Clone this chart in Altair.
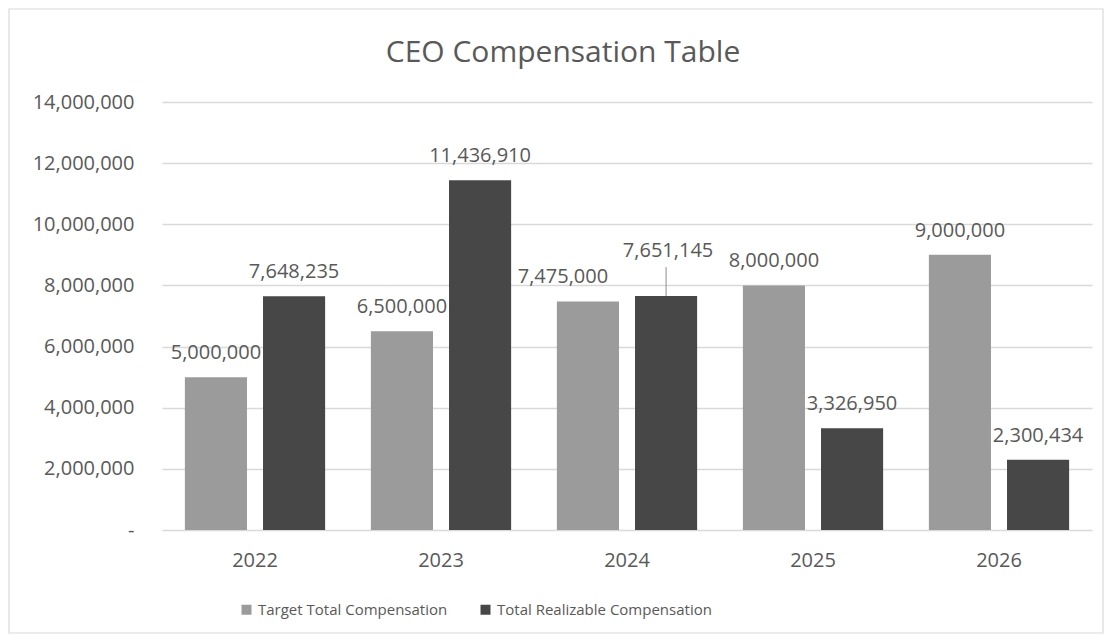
import altair as alt
import pandas as pd

# ---- data ----
years = ["2022", "2023", "2024", "2025", "2026"]
target_total = [5000000, 6500000, 7475000, 8000000, 9000000]
total_realizable = [7648235, 11436910, 7651145, 3326950, 2300434]
series_names = ["Target Total Compensation", "Total Realizable Compensation"]
y_tick_values = [0, 2000000, 4000000, 6000000, 8000000, 10000000, 12000000, 14000000]
chart_title = "CEO Compensation Table"

rows = []
for i, yr in enumerate(years):
    rows.append({"year": yr, "series": series_names[0], "value": target_total[i]})
    rows.append({"year": yr, "series": series_names[1], "value": total_realizable[i]})
df = pd.DataFrame(rows)

FONT = "Open Sans"
TXT = "#595959"
GRID = "#d9d9d9"
COLORS = ["#9B9B9B", "#474747"]

x_enc = alt.X(
    "year:N",
    sort=years,
    scale=alt.Scale(paddingInner=0.246, paddingOuter=0.123),
    axis=alt.Axis(
        title=None, labelAngle=0, domain=False, ticks=False, labelPadding=20,
        labelFontSize=20, labelColor=TXT, labelFont=FONT, grid=False,
    ),
)
xo_enc = alt.XOffset(
    "series:N", sort=series_names,
    scale=alt.Scale(paddingInner=0.205, paddingOuter=0),
)
y_enc = alt.Y(
    "value:Q",
    scale=alt.Scale(domain=[0, 14000000], nice=False),
    axis=alt.Axis(
        title=None, values=y_tick_values,
        labelExpr="datum.value == 0 ? '-\u00a0\u00a0' : format(datum.value, ',')",
        domain=False, ticks=False, grid=True, gridColor=GRID, gridWidth=1.4,
        labelPadding=28, labelFontSize=20, labelColor=TXT, labelFont=FONT,
    ),
)
color_enc = alt.Color(
    "series:N",
    sort=series_names,
    scale=alt.Scale(domain=series_names, range=COLORS),
    legend=alt.Legend(
        title=None, orient="none", direction="horizontal",
        legendX=77, legendY=500, padding=0,
        symbolType="square", symbolSize=100, symbolStrokeWidth=0,
        labelFontSize=15, labelColor=TXT, labelFont=FONT, labelLimit=0,
        labelOffset=4, columnPadding=30,
    ),
)

base = alt.Chart(df)

bars = base.mark_bar().encode(x=x_enc, xOffset=xo_enc, y=y_enc, color=color_enc)

label_common = dict(baseline="alphabetic", align="center", font=FONT, fontSize=20, color=TXT)

labels = base.transform_filter("datum.year != '2024'").mark_text(dy=-18, **label_common).encode(
    x=alt.X("year:N", sort=years), xOffset=alt.XOffset("series:N", sort=series_names),
    y="value:Q", text=alt.Text("value:Q", format=","),
)
label_2024_target = base.transform_filter(
    f"datum.year == '2024' && datum.series == '{series_names[0]}'"
).mark_text(dy=-18, dx=-25, **label_common).encode(
    x=alt.X("year:N", sort=years), xOffset=alt.XOffset("series:N", sort=series_names),
    y="value:Q", text=alt.Text("value:Q", format=","),
)
label_2024_real = base.transform_filter(
    f"datum.year == '2024' && datum.series == '{series_names[1]}'"
).mark_text(dy=-39, dx=2, **label_common).encode(
    x=alt.X("year:N", sort=years), xOffset=alt.XOffset("series:N", sort=series_names),
    y="value:Q", text=alt.Text("value:Q", format=","),
)
leader = base.transform_filter(
    f"datum.year == '2024' && datum.series == '{series_names[1]}'"
).transform_calculate(top="datum.value + 950000").mark_rule(color="#8c8c8c", strokeWidth=1).encode(
    x=alt.X("year:N", sort=years), xOffset=alt.XOffset("series:N", sort=series_names),
    y="value:Q", y2="top:Q",
)

title_layer = alt.Chart(pd.DataFrame({"t": [chart_title]})).mark_text(
    font=FONT, fontSize=30, color=TXT, align="center", baseline="alphabetic"
).encode(text="t:N", x=alt.value(401), y=alt.value(-40))

border = alt.Chart(pd.DataFrame({"b": [1]})).mark_rect(
    fill=None, fillOpacity=0, stroke=GRID, strokeWidth=1.2, clip=False
).encode(x=alt.value(-153), x2=alt.value(941), y=alt.value(-93), y2=alt.value(531))

chart = alt.layer(
    border, bars, leader, labels, label_2024_target, label_2024_real, title_layer
).properties(
    width=930, height=428,
    autosize=alt.AutoSizeParams(type="none"),
    padding={"left": 154, "top": 94, "right": 12, "bottom": 104},
    background="white",
).configure_view(stroke=None)

chart.save("out.html", embed_options={"renderer": "svg", "actions": False})
